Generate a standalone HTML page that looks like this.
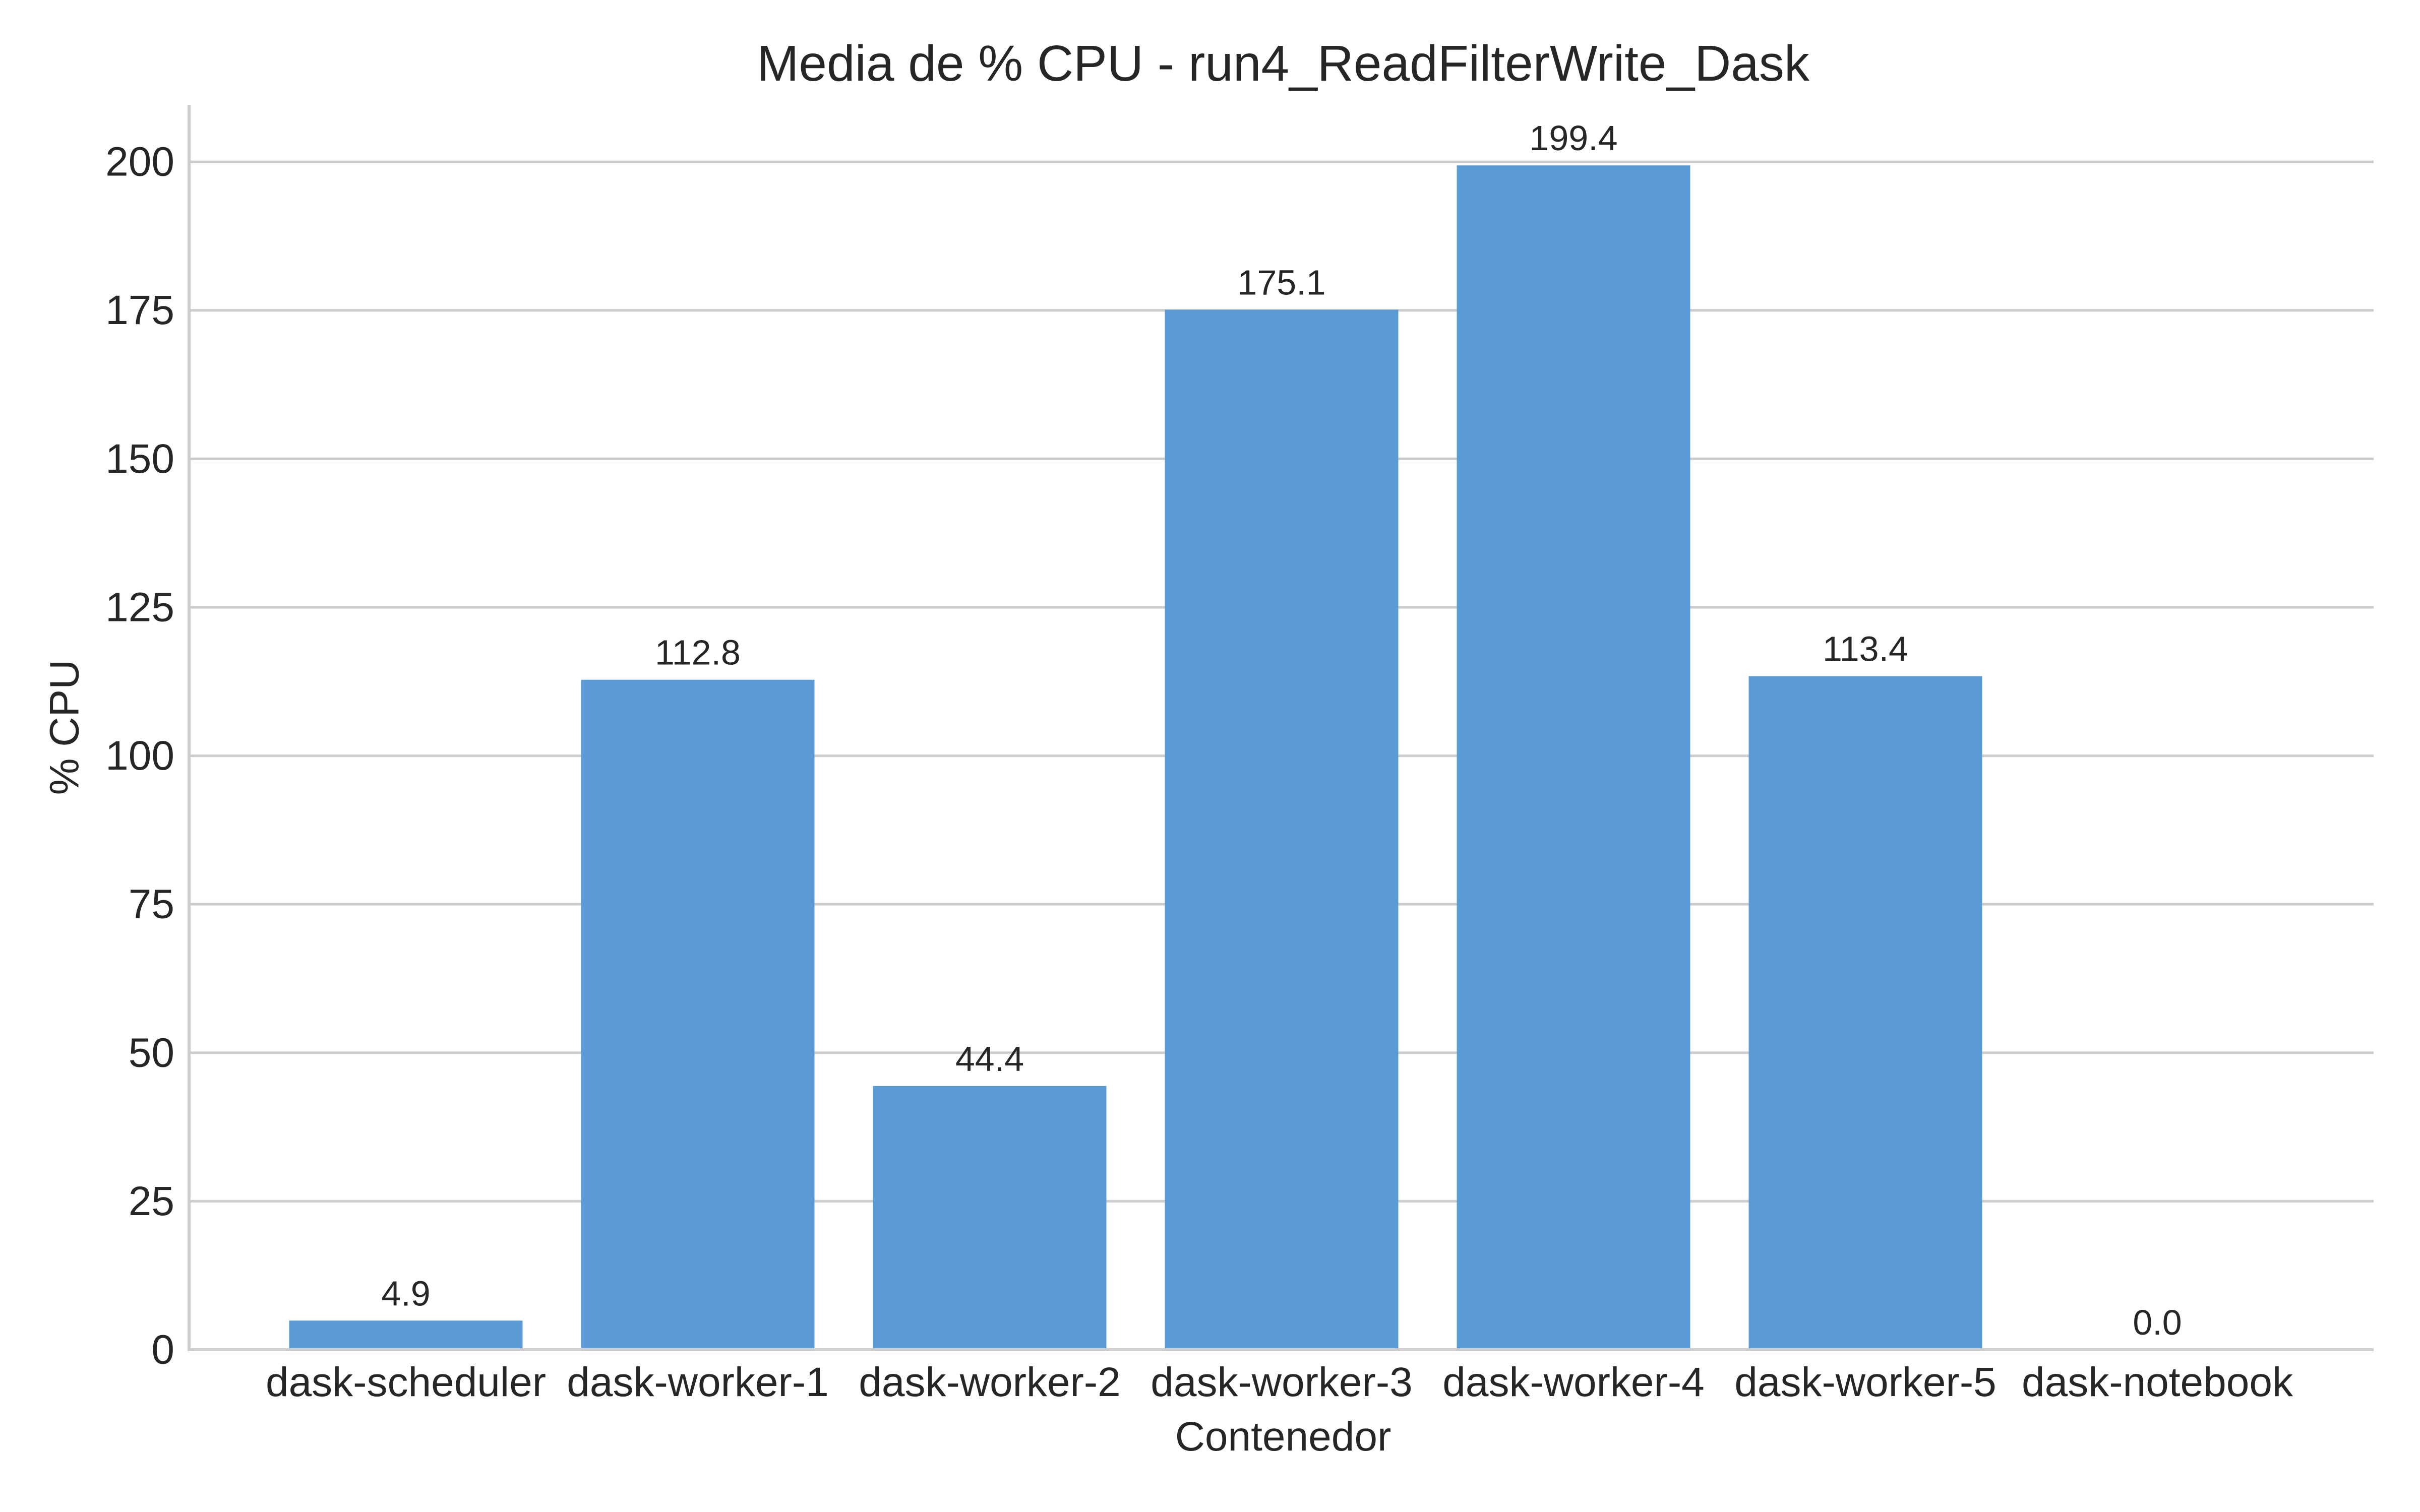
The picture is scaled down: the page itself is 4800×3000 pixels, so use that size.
<!DOCTYPE html>
<html><head><meta charset="utf-8"><style>
html,body{margin:0;padding:0;background:#fff}
svg{display:block}
text{font-family:"Liberation Sans",Arial,sans-serif;fill:#262626}
</style></head><body>
<svg id="chart" width="4800" height="3000" viewBox="0 0 4800 3000" xmlns="http://www.w3.org/2000/svg">
<rect width="4800" height="3000" fill="#fff"/>
<text x="2545" y="160" font-size="100" text-anchor="middle">Media de % CPU - run4_ReadFilterWrite_Dask</text>
<g id="grid"></g><g id="bars"></g><g id="labels"></g>
<text x="2545" y="2878" font-size="82" text-anchor="middle">Contenedor</text>
<text transform="translate(128,1443) rotate(-90)" font-size="82" text-anchor="middle" dominant-baseline="central">% CPU</text>
</svg>
<script>
const categories = ["dask-scheduler","dask-worker-1","dask-worker-2","dask-worker-3","dask-worker-4","dask-worker-5","dask-notebook"];
const values = [4.9,112.8,44.4,175.1,199.4,113.4,0.0];
const valueLabels = ["4.9","112.8","44.4","175.1","199.4","113.4","0.0"];
const yTicks = [0,25,50,75,100,125,150,175,200];

const NS="http://www.w3.org/2000/svg";
const L=375,R=4708,T=208,B=2678,yMax=209.6;
const step=579, c0=805, bw=463;
const y=v=>B-(v/yMax)*(B-T);
const x=i=>c0+i*step;
function mk(tag,attrs,parent,txt){const e=document.createElementNS(NS,tag);for(const k in attrs)e.setAttribute(k,attrs[k]);if(txt!==undefined)e.textContent=txt;parent.appendChild(e);return e;}
const grid=document.getElementById('grid'),bars=document.getElementById('bars'),labels=document.getElementById('labels');
yTicks.forEach(t=>{
  const g=mk('line',{x1:L,x2:R,y1:y(t),y2:y(t),stroke:'#cccccc','stroke-width':5},grid);
  
  
  const tl=mk('text',{x:346,y:y(t),'font-size':82,'text-anchor':'end','dominant-baseline':'central'},labels,String(t));
  
  
});
categories.forEach((c,i)=>{
  const r=mk('rect',{x:x(i)-bw/2,y:y(values[i]),width:bw,height:B-y(values[i]),fill:'#5b9bd5'},bars);
  
  
  const v=mk('text',{x:x(i),y:y(values[i])-30,'font-size':70,'text-anchor':'middle'},labels,valueLabels[i]);
  
  
  const xl=mk('text',{x:x(i),y:2770,'font-size':82,'text-anchor':'middle'},labels,c);
  
  
});
const sl=mk('line',{x1:L,x2:L,y1:T,y2:B+3,stroke:'#cccccc','stroke-width':6},labels);


const sb=mk('line',{x1:L-3,x2:R,y1:B,y2:B,stroke:'#cccccc','stroke-width':6},labels);


</script>
</body></html>
